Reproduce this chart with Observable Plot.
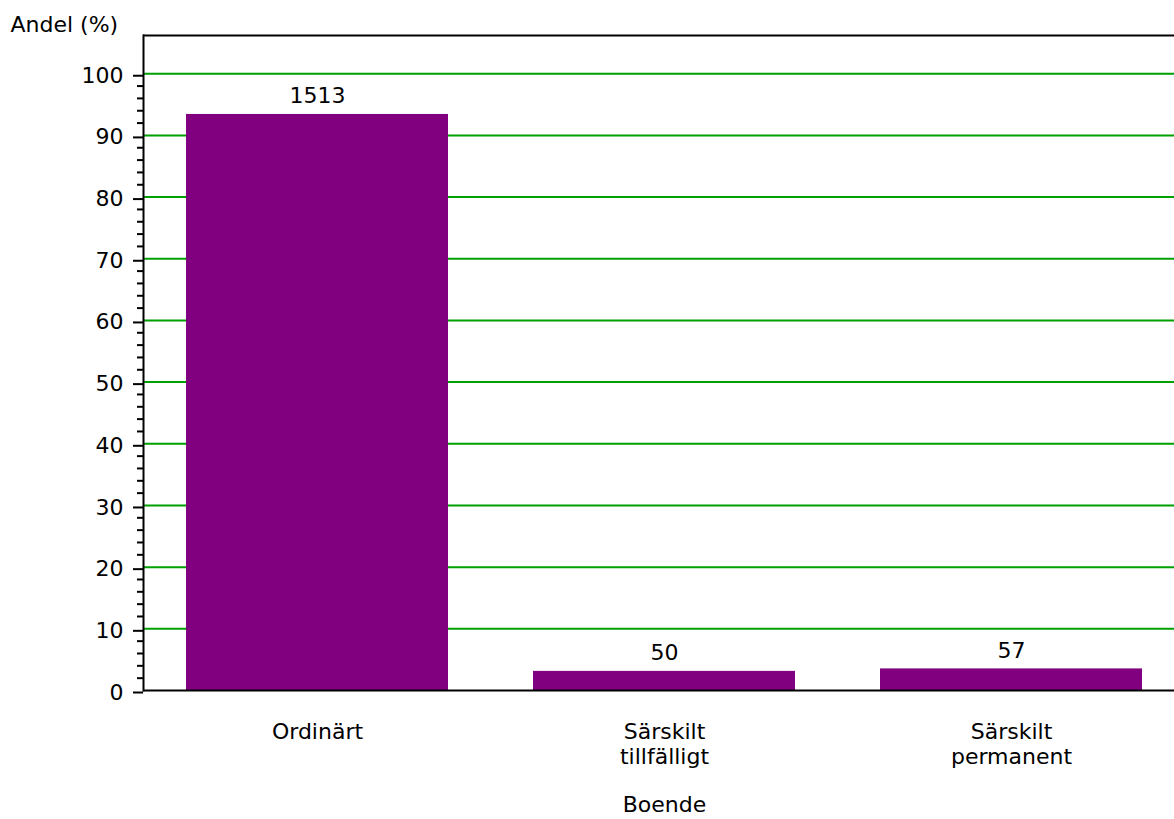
<!DOCTYPE html>
<html>
<head>
<meta charset="utf-8">
<script src="https://cdn.jsdelivr.net/npm/d3@7"></script>
<script src="https://cdn.jsdelivr.net/npm/@observablehq/plot@0.6"></script>
<style>
  html, body { margin: 0; padding: 0; background: #fff; }
  #chart svg { display: block; }
</style>
</head>
<body>
<div id="chart"></div>
<script>
const categories = ["Ordinärt", "Särskilt\ntillfälligt", "Särskilt\npermanent"];
const shares = [93.4, 3.1, 3.5];
const counts = [1513, 50, 57];
const majorTicks = [0, 10, 20, 30, 40, 50, 60, 70, 80, 90, 100];
const minorTicks = [2, 4, 6, 8, 12, 14, 16, 18, 22, 24, 26, 28, 32, 34, 36, 38, 42, 44, 46, 48, 52, 54, 56, 58, 62, 64, 66, 68, 72, 74, 76, 78, 82, 84, 86, 88, 92, 94, 96, 98];
const gridLines = [10, 20, 30, 40, 50, 60, 70, 80, 90, 100];
const yTop = 106.2;

const data = categories.map((c, i) => ({cat: c, share: shares[i], n: counts[i]}));
const font = "DejaVu Sans, Verdana, sans-serif";
const fs = 22;

const chart = Plot.plot({
  width: 1174,
  height: 819,
  marginLeft: 143,
  marginRight: 0,
  marginTop: 35,
  marginBottom: 129,
  style: {fontFamily: font, fontSize: fs + "px", color: "#000", background: "#fff"},
  x: {domain: categories, range: [142.3, 1184.8], paddingInner: 0.246, paddingOuter: 0.123},
  y: {domain: [0, yTop]},
  marks: [
    Plot.ruleY(gridLines, {stroke: "#00a000", strokeWidth: 2}),
    Plot.barY(data, {x: "cat", y: "share", fill: "#800080"}),
    Plot.text(data, {x: "cat", y: "share", text: d => String(d.n), dy: -11, lineAnchor: "bottom", fontSize: fs, fill: "#000"}),
    Plot.ruleY([0], {stroke: "#000", strokeWidth: 2}),
    Plot.ruleY([yTop], {stroke: "#000", strokeWidth: 2}),
    Plot.frame({anchor: "left", stroke: "#000", strokeWidth: 2}),
    Plot.axisY({ticks: majorTicks, tickSize: 10, tickPadding: 10, label: null, fontSize: fs, strokeWidth: 2, dy: 2}),
    Plot.axisY({ticks: minorTicks, tickSize: 6, tickFormat: () => "", label: null, strokeWidth: 2}),
    Plot.axisX({tickSize: 0, tickPadding: 31, label: null, fontSize: fs, lineHeight: 1.12}),
    Plot.text(["Andel (%)"], {frameAnchor: "top-left", dx: -133, dy: -19, textAnchor: "start", fontSize: fs, fill: "#000"}),
    Plot.text(["Boende"], {x: [categories[1]], frameAnchor: "bottom", dy: 121, fontSize: fs, fill: "#000"})
  ]
});
document.getElementById("chart").appendChild(chart);
</script>
</body>
</html>
